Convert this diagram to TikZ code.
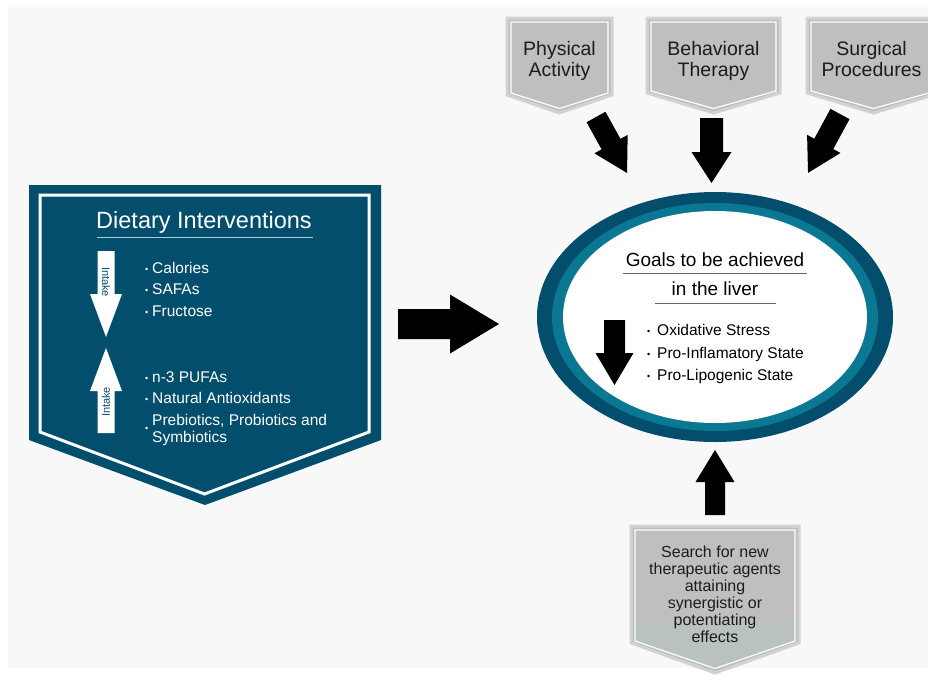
\documentclass[tikz,border=0pt]{standalone}
\usepackage{fontspec}
\setmainfont{Liberation Sans}

\definecolor{navy}{HTML}{034E6C}
\definecolor{teal}{HTML}{0B7893}
\definecolor{canvas}{HTML}{F8F8F8}
\definecolor{boxgray}{HTML}{BFBFBF}
\definecolor{boxgraylow}{HTML}{B9C1C1}
\definecolor{boxedge}{HTML}{D2D2D2}
\definecolor{inkgray}{HTML}{1C1C1C}

% Pentagon (banner) shape: [style] left, right, top, side bottom, tip
\newcommand\shield[6][]{%
  \path[#1] (#2,#4) -- (#3,#4) -- (#3,#5) -- ({(#2+#3)/2},#6) -- (#2,#5) -- cycle;}

% Block arrow: [colour] start, angle, length, head length, shaft half width, head half width
\newcommand\blockarrow[7][black]{%
  \fill[#1,shift={(#2)},rotate=#3] (0,-#6) -- ({#4-#5},-#6) -- ({#4-#5},-#7) -- (#4,0)
    -- ({#4-#5},#7) -- ({#4-#5},#6) -- (0,#6) -- cycle;}

% Small list bullet; optional width of the bullet box
\newcommand\bul[1][7pt]{\makebox[#1][l]{\raisebox{0.8pt}{\fontsize{9}{9}\selectfont •}}}
\newcommand\stack[1]{\begin{tabular}[t]{@{}c@{}}#1\end{tabular}}
\newcommand\stackl[1]{\begin{tabular}[t]{@{}l@{}}#1\end{tabular}}

\begin{document}
\begin{tikzpicture}[x=1pt,y=-1pt,
  dtitle/.style={anchor=base,inner sep=0pt,text=white,font=\fontsize{23.5}{27}\selectfont},
  ditem/.style={anchor=base west,inner sep=0pt,text=white,font=\fontsize{15.5}{17}\selectfont},
  intake/.style={inner sep=0pt,text=navy,font=\fontsize{11}{12}\selectfont},
  boxtext/.style={anchor=base,inner sep=0pt,text=inkgray,font=\fontsize{19.5}{21}\selectfont},
  goaltext/.style={anchor=base,inner sep=0pt,text=black,font=\fontsize{19}{21}\selectfont},
  goalitem/.style={anchor=base west,inner sep=0pt,text=black,font=\fontsize{15.5}{17}\selectfont},
  searchtext/.style={anchor=base,inner sep=0pt,text=inkgray,font=\fontsize{16}{17}\selectfont},
]
\useasboundingbox (0,0) rectangle (928,675);
\clip (0,0) rectangle (928,675);
\fill[white] (0,0) rectangle (928,675);
\fill[canvas] (8,7) rectangle (928,668);

% ---------- Dietary interventions banner ----------
\shield[fill=navy]{29}{381}{185}{440}{505}
\shield[draw=white,line width=3pt]{40}{369}{195}{432}{494}
\node[dtitle] (diet) at (204,228) {Dietary Interventions};
\draw[draw=white!70!navy,line width=0.9pt] (97,237) -- (313,237);

\blockarrow[white]{106,251}{-90}{86}{43}{8.5}{16}
\blockarrow[white]{106,433}{90}{85}{43}{8.5}{16}
\node[intake,rotate=-90] (intakedown) at (106,282) {Intake};
\node[intake,rotate=90] (intakeup) at (106,402) {Intake};

\node[ditem] (cal) at (145,273) {\bul Calories};
\node[ditem] (safa) at (145,294) {\bul SAFAs};
\node[ditem] (fruc) at (145,316) {\bul Fructose};
\node[ditem] (pufa) at (145,382) {\bul n-3 PUFAs};
\node[ditem] (antiox) at (145,403) {\bul Natural Antioxidants};
\node[ditem] (prebul) at (145,432) {\bul};
\node[ditem] (prebio) at (152,425) {\stackl{Prebiotics, Probiotics and\\Symbiotics}};

% ---------- central arrow ----------
\blockarrow{398,324}{0}{101}{49}{15}{29.5}

% ---------- goals ellipse ----------
\fill[navy] (715,317) ellipse [x radius=178pt, y radius=125pt];
\fill[teal] (715,317) ellipse [x radius=163pt, y radius=114pt];
\fill[white] (715,317) ellipse [x radius=152pt, y radius=106pt];
\node[goaltext] (goal1) at (715,266) {Goals to be achieved};
\draw[draw=gray!80!black,line width=0.8pt] (623,273) -- (807,273);
\node[goaltext] (goal2) at (715,295) {in the liver};
\draw[draw=gray!80!black,line width=0.8pt] (655,303) -- (776,303);
\blockarrow{614.5,320}{-90}{65}{32}{10.5}{19}
\node[goalitem] (ox) at (647,335) {\bul[10pt]Oxidative Stress};
\node[goalitem] (infl) at (647,358) {\bul[10pt]Pro-Inflamatory State};
\node[goalitem] (lipo) at (647,380) {\bul[10pt]Pro-Lipogenic State};

% ---------- top banners ----------
\shield[fill=boxgray,draw=boxedge,line width=3pt]{507}{612}{18}{95}{113}
\shield[draw=white,line width=1.2pt]{511}{608}{22}{93}{108.5}
\node[boxtext] (phys) at (559.5,55) {\stack{Physical\\Activity}};

\shield[fill=boxgray,draw=boxedge,line width=3pt]{647}{780}{18}{93}{113}
\shield[draw=white,line width=1.2pt]{651}{776}{22}{91}{108.5}
\node[boxtext] (behav) at (713.5,55) {\stack{Behavioral\\Therapy}};

\shield[fill=boxgray,draw=boxedge,line width=3pt]{807}{940}{18}{93}{113}
\shield[draw=white,line width=1.2pt]{811}{936}{22}{91}{108.5}
\node[boxtext] (surg) at (871.5,55) {\stack{Surgical\\Procedures}};

\blockarrow{596,117}{-61}{64}{33}{10.8}{19}
\blockarrow{711.5,118}{-90}{65}{31}{11.5}{20}
\blockarrow{840,114}{-118.5}{67}{33}{10.8}{19}

% ---------- bottom banner ----------
\blockarrow{715,515}{90}{65}{32}{10}{19.5}
\begin{scope}
  \shield[clip]{631}{799}{526}{643}{673}
  \fill[boxgray] (631,526) rectangle (799,620);
  \fill[boxgraylow] (631,620) rectangle (799,673);
\end{scope}
\shield[draw=boxedge,line width=3pt]{631}{799}{526}{643}{673}
\shield[draw=white,line width=1.2pt]{635}{795}{530}{641}{668.5}
\node[searchtext] (search) at (715,557) {\stack{Search for new\\therapeutic agents\\attaining\\synergistic or\\potentiating\\effects}};
\end{tikzpicture}
\end{document}
